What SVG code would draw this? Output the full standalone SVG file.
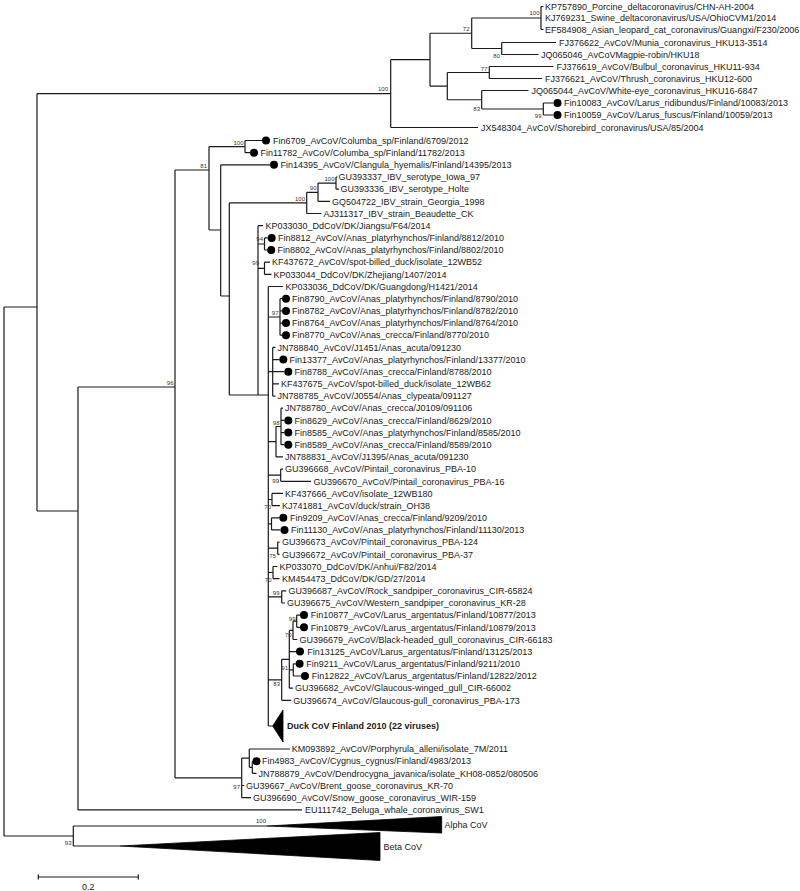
<svg xmlns="http://www.w3.org/2000/svg" width="800" height="891" viewBox="0 0 800 891">
<style>
.t{font-family:"Liberation Sans",Arial,sans-serif;font-size:9px;fill:#1a1a1a}
.tb{font-family:"Liberation Sans",Arial,sans-serif;font-size:9px;font-weight:bold;fill:#1a1a1a}
.b{font-family:"Liberation Sans",Arial,sans-serif;font-size:6px;fill:#333;text-anchor:end}
.br{fill:none;stroke:#1a1a1a;stroke-width:1.2}
.d{fill:#000}
.tri{fill:#000;stroke:#000;stroke-width:0.8}
</style>
<rect width="800" height="891" fill="#fff"/>
<g id="connectors" class="br">
<path d="M4 307V836M4 307H37M37 93.6V511M4 836H73.3M37 93.6H390.7M37 511H78M78 387V809.9M78 809.9H302M78 387H175M175 170V777.9M175 170H209M175 777.9H241.7"/>
<path d="M390.7 59.7V127.5M390.7 127.5H478M390.7 59.7H430M430 33.25V86.1M430 33.25H471.7M471.7 18V48.5M471.7 18H541M541 6.5V29.5M541 6.5H543.5M541 29.5H543.5M471.7 48.5H501.7M501.7 42.5V54.5M501.7 42.5H556M501.7 54.5H538.5M430 86.1H447.3M447.3 72.5V99.75M447.3 72.5H489.3M489.3 66.5V78.5M489.3 66.5H553.5M489.3 78.5H542M447.3 99.75H481.7M481.7 90.5V109M481.7 90.5H528.5M481.7 109H543.3M543.3 103V115M543.3 103H553.5M543.3 115H553.5"/>
<path d="M209 146.6V230M209 146.6H245M245 140.5V152.7M245 140.5H262M245 152.7H250M209 230H220.7M220.7 164.8V296M220.7 164.8H270M220.7 296H229.3M229.3 202.9V395M229.3 202.9H306.7M306.7 192.3V213.5M306.7 192.3H318M318 183.1V201.4M318 183.1H336M336 177V189.2M336 177H337.5M336 189.2H339M318 201.4H330M306.7 213.5H321.5M229.3 395H268.3"/>
<path d="M258 225.7V395M258 225.7H263M258 244H264.5M264.5 237.9V250M264.5 237.9H267.7M264.5 250H267.2M258 268.3H264.5M264.5 262.2V274.4M264.5 262.2H270M264.5 274.4H271.5M268.3 286.5V726M268.3 286.5H283M268.3 317H280M280 298.7V335.2M280 298.7H282M280 310.9H282M280 323.1H282M280 335.2H282M268.3 371.7H272.7M272.7 347.4V396.1M272.7 347.4H275.5M272.7 359.6H279.3M272.7 371.7H284.3M272.7 383.9H279M272.7 396.1H275.5M268.3 441.7H276M276 426.5V456.9M276 426.5H281M281 408.2V444.7M281 408.2H283M281 420.4H284.3M281 432.6H284.3M281 444.7H284.3M276 456.9H283M268.3 475.2H280.7M280.7 469.1V481.3M280.7 469.1H283M280.7 481.3H311M268.3 499.5H272M272 493.4V505.6M272 493.4H283M272 505.6H280M268.3 523.9H271.5M271.5 517.8V529.9M271.5 517.8H279.3M271.5 529.9H280.5M268.3 548.2H277.7M277.7 542.1V554.3M277.7 542.1H279.5M277.7 554.3H279.5M268.3 572.5H273M273 566.5V578.6M273 566.5H277.5M273 578.6H279.5M268.3 596.9H281.7M281.7 590.8V603M281.7 590.8H286.3M281.7 603H285M268.3 679.8H281.7M281.7 659.3V700.3M281.7 700.3H291.3M281.7 659.3H289.3M289.3 630.4V688.2M289.3 630.4H293M293 621.2V639.5M293 621.2H296.7M296.7 615.1V627.3M296.7 615.1H300M296.7 627.3H300M293 639.5H297.3M289.3 651.6H296M289.3 669.9H293.3M293.3 663.8V676M293.3 663.8H295.6M293.3 676H301M289.3 688.2H293M268.3 726H272.7"/>
<path d="M241.7 758.1V797.7M241.7 758.1H249.3M249.3 749V767.3M249.3 749H290M249.3 767.3H252.3M252.3 761.2V773.3M252.3 761.2H252.5M252.3 773.3H256.5M241.7 785.5H244.3M241.7 797.7H251"/>
<path d="M73.3 826V846M73.3 826H267M73.3 846H120"/>
<path d="M38.3 877H138.3M38.3 874.5V879.5M138.3 874.5V879.5"/>
</g>
<g id="collapsed">
<polygon class="tri" points="272.7,726 283,710 283,742"/>
<polygon class="tri" points="267,826 441.7,816.5 441.7,833"/>
<polygon class="tri" points="120,846 380,832.5 380,860.5"/>
</g>
<g id="support">
<text class="b" x="388" y="91">100</text>
<text class="b" x="469.5" y="31">72</text>
<text class="b" x="539.5" y="15">100</text>
<text class="b" x="500" y="58">80</text>
<text class="b" x="487.5" y="70.5">77</text>
<text class="b" x="480" y="111">83</text>
<text class="b" x="541.5" y="118">99</text>
<text class="b" x="173.5" y="385">96</text>
<text class="b" x="207" y="167.5">81</text>
<text class="b" x="243.5" y="144.5">100</text>
<text class="b" x="305" y="200.5">100</text>
<text class="b" x="316.5" y="190">90</text>
<text class="b" x="334.5" y="180.5">100</text>
<text class="b" x="263" y="241">94</text>
<text class="b" x="259" y="265">99</text>
<text class="b" x="278.5" y="314.5">97</text>
<text class="b" x="279.5" y="425">98</text>
<text class="b" x="279" y="483">99</text>
<text class="b" x="271" y="509">70</text>
<text class="b" x="276" y="557.5">75</text>
<text class="b" x="271.5" y="582">70</text>
<text class="b" x="279.5" y="595">99</text>
<text class="b" x="295.5" y="620.5">99</text>
<text class="b" x="291.5" y="636.5">70</text>
<text class="b" x="288" y="670">91</text>
<text class="b" x="280" y="685.5">83</text>
<text class="b" x="240" y="789">97</text>
<text class="b" x="266" y="822.5">100</text>
<text class="b" x="71.5" y="844.5">93</text>
</g>
<g id="tip-KP757890"><text class="t" x="545" y="9.7">KP757890_Porcine_deltacoronavirus/CHN-AH-2004</text></g>
<g id="tip-KJ769231"><text class="t" x="545" y="21.2">KJ769231_Swine_deltacoronavirus/USA/OhioCVM1/2014</text></g>
<g id="tip-EF584908"><text class="t" x="545" y="32.7">EF584908_Asian_leopard_cat_coronavirus/Guangxi/F230/2006</text></g>
<g id="tip-FJ376622"><text class="t" x="559" y="45.7">FJ376622_AvCoV/Munia_coronavirus_HKU13-3514</text></g>
<g id="tip-JQ065046"><text class="t" x="541" y="57.7">JQ065046_AvCoVMagpie-robin/HKU18</text></g>
<g id="tip-FJ376619"><text class="t" x="556.5" y="69.7">FJ376619_AvCoV/Bulbul_coronavirus_HKU11-934</text></g>
<g id="tip-FJ376621"><text class="t" x="545" y="81.7">FJ376621_AvCoV/Thrush_coronavirus_HKU12-600</text></g>
<g id="tip-JQ065044"><text class="t" x="531.5" y="93.7">JQ065044_AvCoV/White-eye_coronavirus_HKU16-6847</text></g>
<g id="tip-Fin10083"><circle class="d" cx="557.5" cy="103" r="4"/><text class="t" x="564" y="106.2">Fin10083_AvCoV/Larus_ridibundus/Finland/10083/2013</text></g>
<g id="tip-Fin10059"><circle class="d" cx="557.5" cy="115" r="4"/><text class="t" x="564" y="118.2">Fin10059_AvCoV/Larus_fuscus/Finland/10059/2013</text></g>
<g id="tip-JX548304"><text class="t" x="481" y="130.7">JX548304_AvCoV/Shorebird_coronavirus/USA/85/2004</text></g>
<g id="tip-Fin6709"><circle class="d" cx="266" cy="140.5" r="4"/><text class="t" x="273" y="143.7">Fin6709_AvCoV/Columba_sp/Finland/6709/2012</text></g>
<g id="tip-Fin11782"><circle class="d" cx="254" cy="152.7" r="4"/><text class="t" x="260.5" y="155.9">Fin11782_AvCoV/Columba_sp/Finland/11782/2013</text></g>
<g id="tip-Fin14395"><circle class="d" cx="274" cy="164.8" r="4"/><text class="t" x="280.5" y="168">Fin14395_AvCoV/Clangula_hyemalis/Finland/14395/2013</text></g>
<g id="tip-GU393337"><text class="t" x="338.5" y="180.2">GU393337_IBV_serotype_Iowa_97</text></g>
<g id="tip-GU393336"><text class="t" x="340.5" y="192.4">GU393336_IBV_serotype_Holte</text></g>
<g id="tip-GQ504722"><text class="t" x="332" y="204.6">GQ504722_IBV_strain_Georgia_1998</text></g>
<g id="tip-AJ311317"><text class="t" x="323.5" y="216.7">AJ311317_IBV_strain_Beaudette_CK</text></g>
<g id="tip-KP033030"><text class="t" x="265.5" y="228.9">KP033030_DdCoV/DK/Jiangsu/F64/2014</text></g>
<g id="tip-Fin8812"><circle class="d" cx="271.7" cy="237.9" r="4"/><text class="t" x="278" y="241.1">Fin8812_AvCoV/Anas_platyrhynchos/Finland/8812/2010</text></g>
<g id="tip-Fin8802"><circle class="d" cx="271.2" cy="250" r="4"/><text class="t" x="277.5" y="253.2">Fin8802_AvCoV/Anas_platyrhynchos/Finland/8802/2010</text></g>
<g id="tip-KF437672"><text class="t" x="272" y="265.4">KF437672_AvCoV/spot-billed_duck/isolate_12WB52</text></g>
<g id="tip-KP033044"><text class="t" x="273.5" y="277.6">KP033044_DdCoV/DK/Zhejiang/1407/2014</text></g>
<g id="tip-KP033036"><text class="t" x="285.5" y="289.7">KP033036_DdCoV/DK/Guangdong/H1421/2014</text></g>
<g id="tip-Fin8790"><circle class="d" cx="286" cy="298.7" r="4"/><text class="t" x="292" y="301.9">Fin8790_AvCoV/Anas_platyrhynchos/Finland/8790/2010</text></g>
<g id="tip-Fin8782"><circle class="d" cx="286" cy="310.9" r="4"/><text class="t" x="292" y="314.1">Fin8782_AvCoV/Anas_platyrhynchos/Finland/8782/2010</text></g>
<g id="tip-Fin8764"><circle class="d" cx="286" cy="323.1" r="4"/><text class="t" x="292" y="326.3">Fin8764_AvCoV/Anas_platyrhynchos/Finland/8764/2010</text></g>
<g id="tip-Fin8770"><circle class="d" cx="286" cy="335.2" r="4"/><text class="t" x="292" y="338.4">Fin8770_AvCoV/Anas_crecca/Finland/8770/2010</text></g>
<g id="tip-JN788840"><text class="t" x="277.5" y="350.6">JN788840_AvCoV/J1451/Anas_acuta/091230</text></g>
<g id="tip-Fin13377"><circle class="d" cx="283.3" cy="359.6" r="4"/><text class="t" x="289.5" y="362.8">Fin13377_AvCoV/Anas_platyrhynchos/Finland/13377/2010</text></g>
<g id="tip-Fin8788"><circle class="d" cx="288.3" cy="371.7" r="4"/><text class="t" x="294.5" y="374.9">Fin8788_AvCoV/Anas_crecca/Finland/8788/2010</text></g>
<g id="tip-KF437675"><text class="t" x="281" y="387.1">KF437675_AvCoV/spot-billed_duck/isolate_12WB62</text></g>
<g id="tip-JN788785"><text class="t" x="277.5" y="399.3">JN788785_AvCoV/J0554/Anas_clypeata/091127</text></g>
<g id="tip-JN788780"><text class="t" x="285" y="411.4">JN788780_AvCoV/Anas_crecca/J0109/091106</text></g>
<g id="tip-Fin8629"><circle class="d" cx="288.3" cy="420.4" r="4"/><text class="t" x="294.5" y="423.6">Fin8629_AvCoV/Anas_crecca/Finland/8629/2010</text></g>
<g id="tip-Fin8585"><circle class="d" cx="288.3" cy="432.6" r="4"/><text class="t" x="294.5" y="435.8">Fin8585_AvCoV/Anas_platyrhynchos/Finland/8585/2010</text></g>
<g id="tip-Fin8589"><circle class="d" cx="288.3" cy="444.7" r="4"/><text class="t" x="294.5" y="447.9">Fin8589_AvCoV/Anas_crecca/Finland/8589/2010</text></g>
<g id="tip-JN788831"><text class="t" x="285" y="460.1">JN788831_AvCoV/J1395/Anas_acuta/091230</text></g>
<g id="tip-GU396668"><text class="t" x="285" y="472.3">GU396668_AvCoV/Pintail_coronavirus_PBA-10</text></g>
<g id="tip-GU396670"><text class="t" x="313.5" y="484.5">GU396670_AvCoV/Pintail_coronavirus_PBA-16</text></g>
<g id="tip-KF437666"><text class="t" x="285" y="496.6">KF437666_AvCoV/isolate_12WB180</text></g>
<g id="tip-KJ741881"><text class="t" x="282" y="508.8">KJ741881_AvCoV/duck/strain_OH38</text></g>
<g id="tip-Fin9209"><circle class="d" cx="283.3" cy="517.8" r="4"/><text class="t" x="290" y="521">Fin9209_AvCoV/Anas_crecca/Finland/9209/2010</text></g>
<g id="tip-Fin11130"><circle class="d" cx="284.5" cy="529.9" r="4"/><text class="t" x="291" y="533.1">Fin11130_AvCoV/Anas_platyrhynchos/Finland/11130/2013</text></g>
<g id="tip-GU396673"><text class="t" x="282" y="545.3">GU396673_AvCoV/Pintail_coronavirus_PBA-124</text></g>
<g id="tip-GU396672"><text class="t" x="282" y="557.5">GU396672_AvCoV/Pintail_coronavirus_PBA-37</text></g>
<g id="tip-KP033070"><text class="t" x="279.5" y="569.7">KP033070_DdCoV/DK/Anhui/F82/2014</text></g>
<g id="tip-KM454473"><text class="t" x="282" y="581.8">KM454473_DdCoV/DK/GD/27/2014</text></g>
<g id="tip-GU396687"><text class="t" x="288.5" y="594">GU396687_AvCoV/Rock_sandpiper_coronavirus_CIR-65824</text></g>
<g id="tip-GU396675"><text class="t" x="287" y="606.2">GU396675_AvCoV/Western_sandpiper_coronavirus_KR-28</text></g>
<g id="tip-Fin10877"><circle class="d" cx="304" cy="615.1" r="4"/><text class="t" x="310.7" y="618.3">Fin10877_AvCoV/Larus_argentatus/Finland/10877/2013</text></g>
<g id="tip-Fin10879"><circle class="d" cx="304" cy="627.3" r="4"/><text class="t" x="310.7" y="630.5">Fin10879_AvCoV/Larus_argentatus/Finland/10879/2013</text></g>
<g id="tip-GU396679"><text class="t" x="299.5" y="642.7">GU396679_AvCoV/Black-headed_gull_coronavirus_CIR-66183</text></g>
<g id="tip-Fin13125"><circle class="d" cx="300" cy="651.6" r="4"/><text class="t" x="307.3" y="654.8">Fin13125_AvCoV/Larus_argentatus/Finland/13125/2013</text></g>
<g id="tip-Fin9211"><circle class="d" cx="299.6" cy="663.8" r="4"/><text class="t" x="306.3" y="667">Fin9211_AvCoV/Larus_argentatus/Finland/9211/2010</text></g>
<g id="tip-Fin12822"><circle class="d" cx="305" cy="676" r="4"/><text class="t" x="311.7" y="679.2">Fin12822_AvCoV/Larus_argentatus/Finland/12822/2012</text></g>
<g id="tip-GU396682"><text class="t" x="295" y="691.4">GU396682_AvCoV/Glaucous-winged_gull_CIR-66002</text></g>
<g id="tip-GU396674"><text class="t" x="293.3" y="703.5">GU396674_AvCoV/Glaucous-gull_coronavirus_PBA-173</text></g>
<g id="tip-DuckCoV"><text class="tb" x="287" y="729.2">Duck CoV Finland 2010 (22 viruses)</text></g>
<g id="tip-KM093892"><text class="t" x="291.7" y="752.2">KM093892_AvCoV/Porphyrula_alleni/isolate_7M/2011</text></g>
<g id="tip-Fin4983"><circle class="d" cx="256.5" cy="761.2" r="4"/><text class="t" x="262" y="764.4">Fin4983_AvCoV/Cygnus_cygnus/Finland/4983/2013</text></g>
<g id="tip-JN788879"><text class="t" x="258.5" y="776.5">JN788879_AvCoV/Dendrocygna_javanica/isolate_KH08-0852/080506</text></g>
<g id="tip-GU39667"><text class="t" x="246" y="788.7">GU39667_AvCoV/Brent_goose_coronavirus_KR-70</text></g>
<g id="tip-GU396690"><text class="t" x="253" y="800.9">GU396690_AvCoV/Snow_goose_coronavirus_WIR-159</text></g>
<g id="tip-EU111742"><text class="t" x="305" y="813.1">EU111742_Beluga_whale_coronavirus_SW1</text></g>
<g id="tip-Alpha"><text class="t" x="444.5" y="828">Alpha CoV</text></g>
<g id="tip-Beta"><text class="t" x="383.5" y="850">Beta CoV</text></g>
<g id="scale"><text class="t" x="88.3" y="890" text-anchor="middle">0.2</text></g>
</svg>
